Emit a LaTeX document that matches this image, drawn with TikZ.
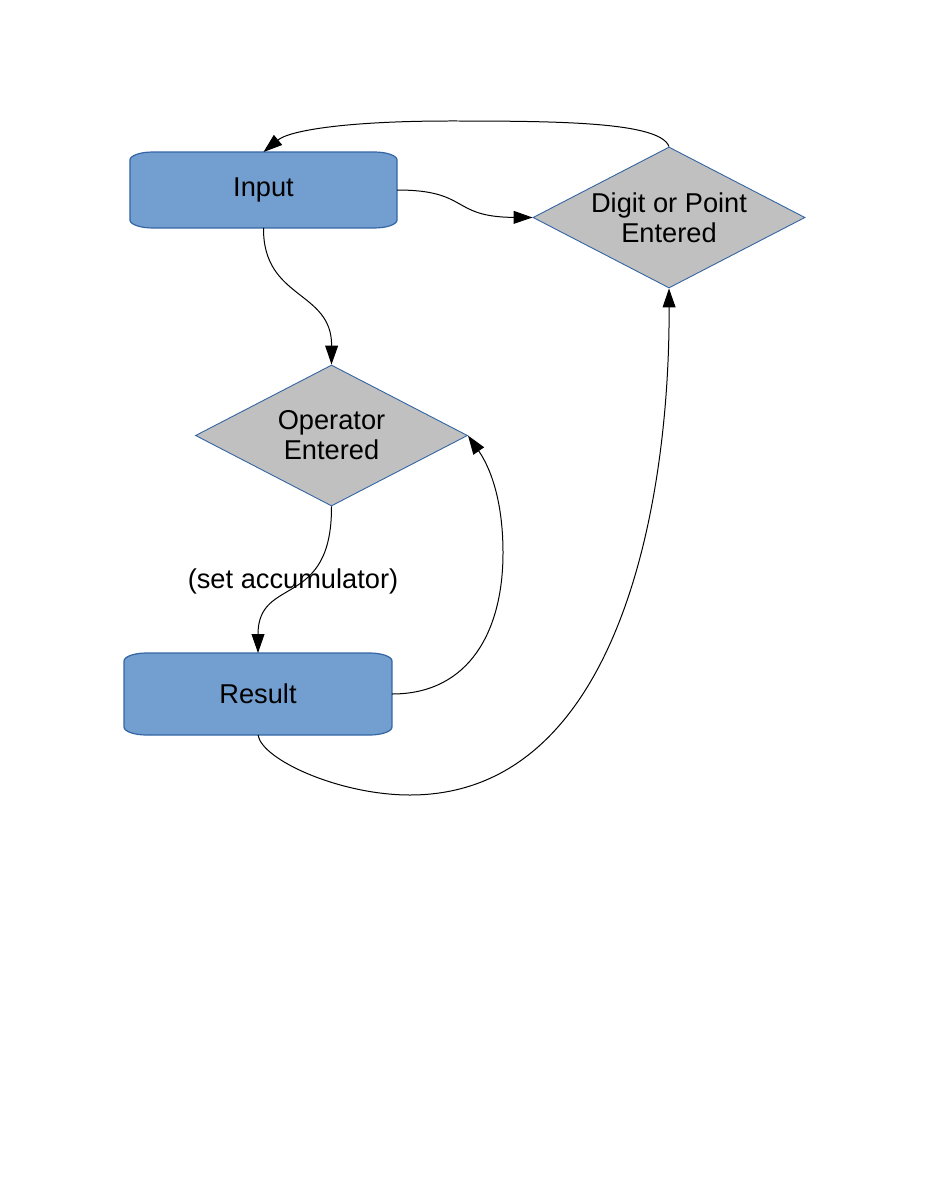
\documentclass[tikz,border=0pt]{standalone}
\usepackage{fontspec}
\setmainfont{Liberation Sans}
\usetikzlibrary{shapes.geometric,arrows.meta,backgrounds}
\definecolor{boxblue}{HTML}{729FCF}
\definecolor{edgeblue}{HTML}{3465A4}
\definecolor{diamgray}{HTML}{C0C0C0}
\newcommand{\termbox}[1]{%
  \begin{scope}[on background layer]
    \draw[fill=boxblue, draw=edgeblue, line width=0.8pt]
      ([yshift=-5.3pt]#1.north west) arc[start angle=180, end angle=90, x radius=15pt, y radius=5.3pt]
      -- ([xshift=-15pt]#1.north east) arc[start angle=90, end angle=0, x radius=15pt, y radius=5.3pt]
      -- ([yshift=5.3pt]#1.south east) arc[start angle=0, end angle=-90, x radius=15pt, y radius=5.3pt]
      -- ([xshift=15pt]#1.south west) arc[start angle=270, end angle=180, x radius=15pt, y radius=5.3pt]
      -- cycle;
  \end{scope}}
\begin{document}
\begin{tikzpicture}[x=0.66091pt, y=-0.66091pt,
    font=\fontsize{18}{19.8}\selectfont,
    term/.style={rectangle, outer sep=0pt, inner sep=0pt, minimum width=176.5pt},
    decision/.style={diamond, aspect=1.93, draw=edgeblue, line width=0.6pt, fill=diamgray, inner sep=0pt, align=center, minimum width=179.8pt, minimum height=93.2pt},
    arrow/.style={-{Triangle[length=12.5pt, width=8.5pt]}, line width=0.66pt}]
        \useasboundingbox (0,0) rectangle (926,1199);

        \node[term, minimum height=50.2pt] (input) at (263.5,190) {Input};
        \node[term, minimum height=54.2pt, minimum width=177.1pt] (result) at (258,694) {Result};
        \node[decision] (digit) at (669,217.5) {Digit or Point\\Entered};
        \node[decision] (oper) at (331.5,435.5) {Operator\\Entered};
        \node (lbl) at (293,581) {(set accumulator)};
        \termbox{input}
        \termbox{result}

        \draw[arrow] (digit.north) .. controls (660,122) and (560,121) .. (450,121) .. controls (350,121) and (290,130) .. (input.north);
        \draw[arrow] (input.east) .. controls (470,190) and (450,217) .. (digit.west);
        \draw[arrow] (input.south) .. controls (263,300) and (332,290) .. (oper.north);
        \draw[arrow] (oper.south) .. controls (332,610) and (258,575) .. (result.north);
        \draw[arrow] (result.east) .. controls (470,694) and (503,630) .. (503,553) .. controls (503,490) and (485,460) .. (oper.east);
        \draw[arrow] (result.south) .. controls (262,760) and (340,795) .. (410,795) .. controls (620,795) and (670,500) .. (digit.south);
    \end{tikzpicture}
\end{document}
